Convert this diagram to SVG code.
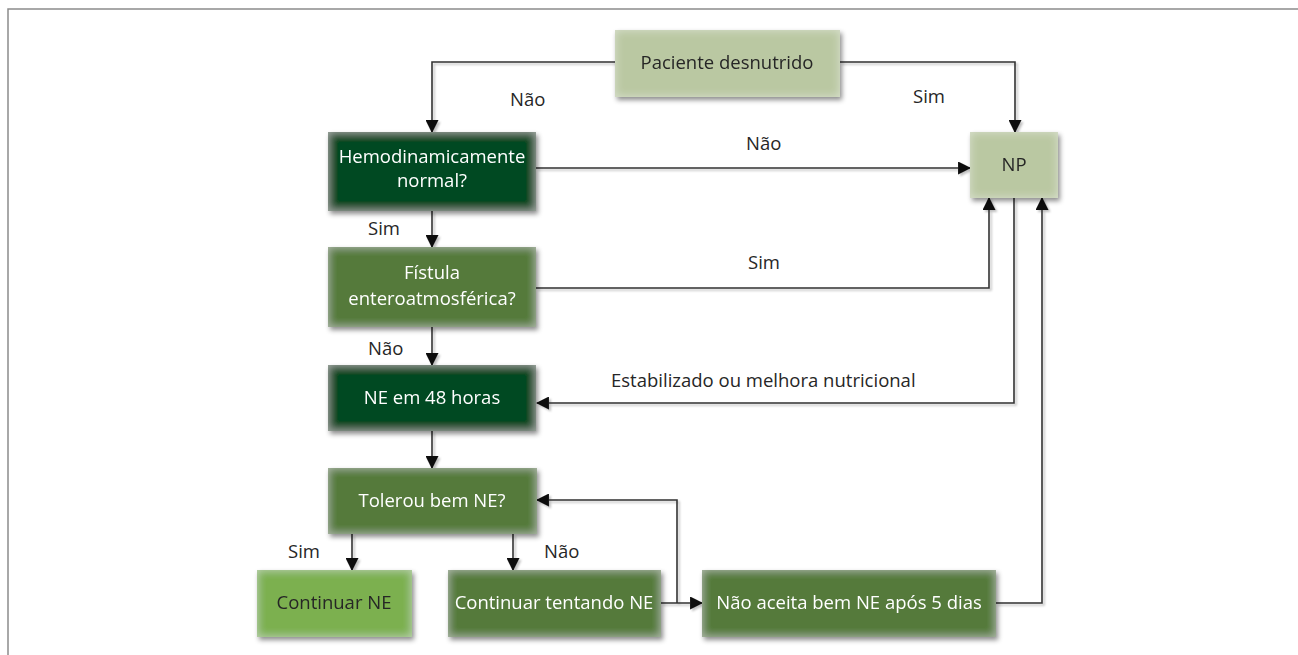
<svg xmlns="http://www.w3.org/2000/svg" width="1298" height="655" viewBox="0 0 1298 655">
  <defs>
    <style>
      .box-text { font-family: "Open Sans", "Noto Sans", sans-serif; font-size: 18.5px; text-anchor: middle; }
      .light-text { fill: #ffffff; }
      .dark-text { fill: #262626; }
      .label { font-family: "Open Sans", "Noto Sans", sans-serif; font-size: 18.5px; fill: #262626; }
      .wire { fill: none; stroke: #333333; stroke-width: 1.6; }
      .frame { fill: none; stroke: #8c8c8c; stroke-width: 1.5; }
      .pale { fill: #bac8a2; }
      .deep { fill: #004a23; }
      .olive { fill: #547a3b; }
      .leaf { fill: #7cb04f; }
    </style>
    <!-- soft drop shadow plus a light inner glow along the edges -->
    <filter id="boxfx" x="-10%" y="-15%" width="125%" height="140%">
      <feGaussianBlur in="SourceAlpha" stdDeviation="2.5" result="blur"/>
      <feOffset in="blur" dx="2" dy="3" result="off"/>
      <feFlood flood-color="#000" flood-opacity="0.45"/>
      <feComposite in2="off" operator="in" result="shadow"/>
      <feGaussianBlur in="SourceAlpha" stdDeviation="5" result="ib"/>
      <feComposite in="SourceAlpha" in2="ib" operator="arithmetic" k2="1" k3="-1" result="edge"/>
      <feFlood flood-color="#ffffff" flood-opacity="0.4"/>
      <feComposite in2="edge" operator="in" result="glow"/>
      <feMerge>
        <feMergeNode in="shadow"/>
        <feMergeNode in="SourceGraphic"/>
        <feMergeNode in="glow"/>
      </feMerge>
    </filter>
    <filter id="wirefx" x="-5%" y="-5%" width="110%" height="110%">
      <feGaussianBlur in="SourceAlpha" stdDeviation="1" result="b"/>
      <feOffset in="b" dx="1.5" dy="1.5" result="o"/>
      <feFlood flood-color="#000" flood-opacity="0.25"/>
      <feComposite in2="o" operator="in" result="s"/>
      <feMerge>
        <feMergeNode in="s"/>
        <feMergeNode in="SourceGraphic"/>
      </feMerge>
    </filter>
    <marker id="arrow" viewBox="0 0 12 12" refX="11" refY="6" markerWidth="13" markerHeight="13" markerUnits="userSpaceOnUse" orient="auto">
      <path d="M0,0 L12,6 L0,12 z" fill="#111111"/>
    </marker>
  </defs>

  <rect width="1298" height="655" fill="#ffffff"/>
  <path class="frame" d="M1298,9 H8 V655"/>

  <!-- connectors -->
  <g id="connectors" filter="url(#wirefx)">
    <path class="wire" d="M615,62 H432 V132" marker-end="url(#arrow)"/>
    <path class="wire" d="M840,62 H1015 V132" marker-end="url(#arrow)"/>
    <path class="wire" d="M536,168 H970" marker-end="url(#arrow)"/>
    <path class="wire" d="M432,211 V247" marker-end="url(#arrow)"/>
    <path class="wire" d="M536,288 H989 V198" marker-end="url(#arrow)"/>
    <path class="wire" d="M432,327 V365" marker-end="url(#arrow)"/>
    <path class="wire" d="M1014,198 V403 H537" marker-end="url(#arrow)"/>
    <path class="wire" d="M432,431 V468" marker-end="url(#arrow)"/>
    <path class="wire" d="M352,534 V570" marker-end="url(#arrow)"/>
    <path class="wire" d="M513,534 V570" marker-end="url(#arrow)"/>
    <path class="wire" d="M661,603 H702" marker-end="url(#arrow)"/>
    <path class="wire" d="M677,603 V500 H537" marker-end="url(#arrow)"/>
    <path class="wire" d="M996,603 H1042 V198" marker-end="url(#arrow)"/>
  </g>

  <!-- connector labels -->
  <g id="labels">
    <text class="label" x="510" y="106">Não</text>
    <text class="label" x="913" y="103">Sim</text>
    <text class="label" x="746" y="150">Não</text>
    <text class="label" x="368" y="235">Sim</text>
    <text class="label" x="748" y="269">Sim</text>
    <text class="label" x="368" y="355">Não</text>
    <text class="label" x="611" y="387">Estabilizado ou melhora nutricional</text>
    <text class="label" x="288" y="558">Sim</text>
    <text class="label" x="544" y="558">Não</text>
  </g>

  <g id="paciente" filter="url(#boxfx)">
    <rect class="pale" x="615" y="30" width="225" height="67"/>
    <text class="box-text dark-text" x="727" y="69">Paciente desnutrido</text>
  </g>

  <g id="hemodinamica" filter="url(#boxfx)">
    <rect class="deep" x="328" y="132" width="208" height="79"/>
    <text class="box-text light-text" x="432" y="163">Hemodinamicamente</text>
    <text class="box-text light-text" x="432" y="187">normal?</text>
  </g>

  <g id="np" filter="url(#boxfx)">
    <rect class="pale" x="970" y="132" width="88" height="66"/>
    <text class="box-text dark-text" x="1014" y="171">NP</text>
  </g>

  <g id="fistula" filter="url(#boxfx)">
    <rect class="olive" x="328" y="247" width="208" height="80"/>
    <text class="box-text light-text" x="432" y="279">Fístula</text>
    <text class="box-text light-text" x="432" y="305">enteroatmosférica?</text>
  </g>

  <g id="ne48" filter="url(#boxfx)">
    <rect class="deep" x="328" y="365" width="208" height="66"/>
    <text class="box-text light-text" x="432" y="404">NE em 48 horas</text>
  </g>

  <g id="tolerou" filter="url(#boxfx)">
    <rect class="olive" x="328" y="468" width="209" height="66"/>
    <text class="box-text light-text" x="432" y="507">Tolerou bem NE?</text>
  </g>

  <g id="continuar-ne" filter="url(#boxfx)">
    <rect class="leaf" x="257" y="570" width="155" height="67"/>
    <text class="box-text dark-text" x="334" y="609">Continuar NE</text>
  </g>

  <g id="continuar-tentando" filter="url(#boxfx)">
    <rect class="olive" x="448" y="570" width="213" height="67"/>
    <text class="box-text light-text" x="554" y="609">Continuar tentando NE</text>
  </g>

  <g id="nao-aceita" filter="url(#boxfx)">
    <rect class="olive" x="702" y="570" width="294" height="67"/>
    <text class="box-text light-text" x="849" y="609">Não aceita bem NE após 5 dias</text>
  </g>
</svg>
